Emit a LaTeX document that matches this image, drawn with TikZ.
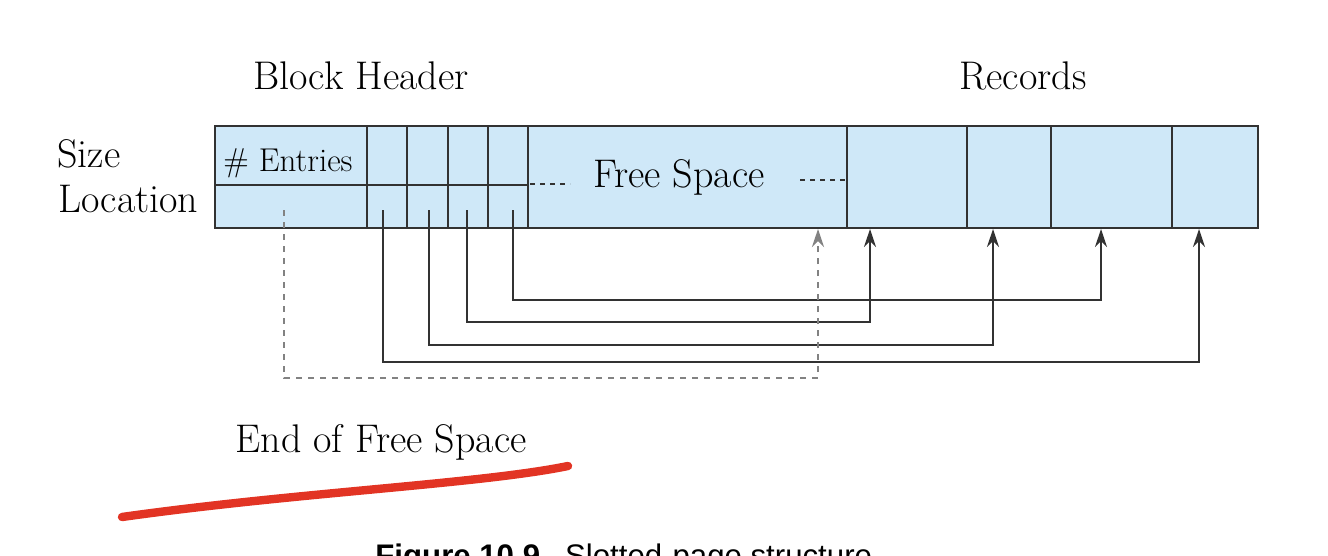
\documentclass[tikz,border=0pt]{standalone}
\usepackage{fontspec}
\newfontfamily\capfont{Liberation Sans}
\usepackage{tikz}
\usetikzlibrary{arrows.meta, calc}
\definecolor{pageblue}{RGB}{207, 232, 248}
\definecolor{pageline}{RGB}{50, 50, 50}
\definecolor{freegray}{RGB}{130, 130, 130}
\definecolor{penred}{RGB}{226, 52, 36}
\tikzset{
    lbl/.style={font=\fontsize{20}{24}\selectfont, inner sep=0pt, anchor=base},
    ptr/.style={draw=pageline, line width=0.9pt, -{Stealth[length=9pt, width=6pt]}},
    endptr/.style={draw=freegray, line width=1.3pt, dash pattern=on 3pt off 3pt, -{Stealth[length=9pt, width=6pt]}}
}

\begin{document}
\begin{tikzpicture}[x=0.5pt, y=-0.5pt]
    \useasboundingbox (0,0) rectangle (1328,556);
    \draw[fill=pageblue, draw=pageline, line width=1pt] (215,126) rectangle (1258,228);
    \draw[pageline, line width=1pt] (215,185) -- (528,185);
    \foreach \x in {367,407,448,488,528,847,967,1051,1172}
        \draw[pageline, line width=1pt] (\x,126) -- (\x,228);
    \draw[pageline, line width=0.8pt, dash pattern=on 2.5pt off 2.5pt] (530,184) -- (570,184);
    \draw[pageline, line width=0.8pt, dash pattern=on 2.5pt off 2.5pt] (800,180) -- (846,180);

    \node[lbl] (header) at (361,90) {Block Header};
    \node[lbl] (records) at (1023,90) {Records};
    \node[lbl, anchor=base west] (size) at (57,168) {Size};
    \node[lbl, anchor=base west] (location) at (58,213) {Location};
    \node[lbl, font=\fontsize{16.5}{20}\selectfont] (entries) at (288,171) {\# Entries};
    \node[lbl] (free) at (679,187) {Free Space};
    \node[lbl] (endfree) at (381,452) {End of Free Space};

    \coordinate (s1) at (383,210);
    \coordinate (s2) at (429,210);
    \coordinate (s3) at (467,210);
    \coordinate (s4) at (513,210);
    \coordinate (efs) at (284,210);
    \coordinate (r1) at (870,229);
    \coordinate (r2) at (993,229);
    \coordinate (r3) at (1101,229);
    \coordinate (r4) at (1199,229);
    \coordinate (fend) at (818,229);

    \draw[ptr] (s4) -- ++(0,90) -| (r3);
    \draw[ptr] (s3) -- ++(0,112) -| (r1);
    \draw[ptr] (s2) -- ++(0,135) -| (r2);
    \draw[ptr] (s1) -- ++(0,152) -| (r4);
    \draw[endptr] (efs) -- ++(0,168) -| (fend);

    \draw[penred, line width=4.2pt, line cap=round] (122,517) .. controls (300,492) and (480,484) .. (568,466);

    \node[anchor=base west, inner sep=0pt, font=\capfont\fontsize{15.6}{18}\selectfont] (caption) at (375,566) {\textbf{Figure 10.9}\hspace{0.8em}Slotted-page structure.};
\end{tikzpicture}
\end{document}
